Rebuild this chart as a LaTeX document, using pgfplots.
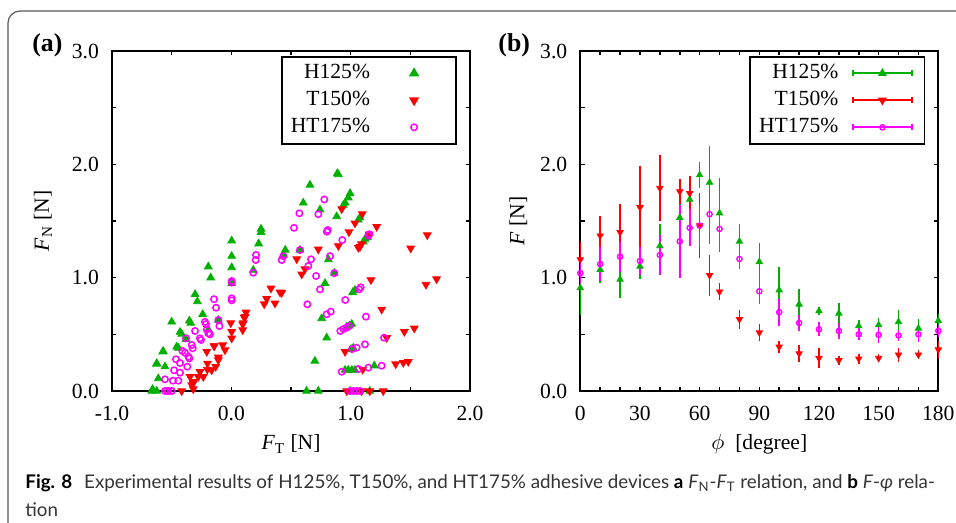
\documentclass[border=0pt]{standalone}
\usepackage{fontspec}
\setmainfont{Liberation Serif}
\newfontfamily\capfont{Lato}
\usepackage{pgfplots}
\pgfplotsset{compat=1.18}
\usepackage{pgfplotstable}

\definecolor{cGreen}{RGB}{0,176,0}
\definecolor{cRed}{RGB}{255,0,0}
\definecolor{cMag}{RGB}{255,0,255}

% panel (b): phi, mean force, error
\pgfplotstableread{
phi F e
0 0.91 0.22
10 1.07 0.09
20 0.985 0.14
30 1.10 0.09
40 1.28 0.17
50 1.53 0.16
55 1.69 0.10
60 1.906 0.09
65 1.84 0.30
70 1.57 0.29
80 1.32 0.13
90 1.14 0.14
100 0.89 0.18
110 0.765 0.11
120 0.706 0.015
130 0.685 0.07
140 0.574 0.03
150 0.582 0.04
160 0.61 0.08
170 0.553 0.06
180 0.62 0.04
}\bH
\pgfplotstableread{
phi F e
0 1.16 0.13
10 1.37 0.15
20 1.40 0.23
30 1.62 0.34
40 1.79 0.27
50 1.76 0.09
55 1.745 0.13
60 1.46 0.26
65 1.02 0.16
70 0.876 0.05
80 0.633 0.06
90 0.515 0.055
100 0.39 0.03
110 0.33 0.05
120 0.29 0.065
130 0.27 0.02
140 0.285 0.02
150 0.29 0.01
160 0.32 0.04
170 0.32 0.015
180 0.365 0.05
}\bT
\pgfplotstableread{
phi F e
0 1.04 0.10
10 1.12 0.13
20 1.185 0.11
30 1.147 0.10
40 1.20 0.15
50 1.32 0.30
55 1.44 0.14
60 1.46 0.16
65 1.56 0.24
70 1.43 0.18
80 1.165 0.065
90 0.88 0.085
100 0.695 0.095
110 0.60 0.05
120 0.544 0.04
130 0.53 0.045
140 0.50 0.03
150 0.495 0.045
160 0.49 0.025
170 0.50 0.045
180 0.53 0.03
}\bHT

\pgfplotsset{
  panel/.style={
    scale only axis, width=179pt, height=170pt, clip=false,
    axis line style={line width=1pt},
    every tick/.style={black, line width=0.8pt},
    tick align=inside, major tick length=2.2pt, minor tick length=2.2pt,
    ymin=0, ymax=3, ytick={0,1,2,3}, yticklabels={0.0,1.0,2.0,3.0}, minor y tick num=1,
    tick label style={font=\fontsize{10.8}{12}\selectfont},
    label style={font=\fontsize{10.8}{12}\selectfont},
    yticklabel style={xshift=-3pt},
    xticklabel style={yshift=-4pt},
    legend cell align=right, legend plot pos=right,
    legend style={at={(axis description cs:0.9637,0.9853)}, anchor=north east,
      draw=black, line width=0.8pt, font=\fontsize{10.8}{12}\selectfont,
      inner xsep=3pt, inner ysep=1.5pt, row sep=0pt,
      nodes={text height=8pt, text depth=2.5pt, inner sep=1.5pt}},
  },
  dotleg/.style={legend image code/.code={
    \path (0pt,0pt) (37.8pt,0pt);
    \draw[##1] plot coordinates {(20.15pt,0pt)};}},
  ebleg/.style={legend image code/.code={
    \path (0pt,0pt) (37.8pt,0pt);
    \draw[#1,line width=0.8pt] (5.5pt,0pt) -- (34.8pt,0pt)
      (5.5pt,-1.5pt) -- (5.5pt,1.5pt) (34.8pt,-1.5pt) -- (34.8pt,1.5pt);
    \draw[##1] plot coordinates {(20.15pt,0pt)};}},
}

\begin{document}
\begin{tikzpicture}
\path[use as bounding box] (0,0) rectangle (478pt,-261.5pt);
\draw[black!65, line width=0.6pt] (4pt,-262pt) -- (4pt,-11.5pt)
  arc[start angle=180, end angle=90, radius=6pt] -- (480pt,-5.5pt);

% ---- (a)
\begin{axis}[panel, at={(56pt,-195.5pt)}, anchor=south west,
  xmin=-1, xmax=2, xtick={-1,0,1,2}, xticklabels={-1.0,0.0,1.0,2.0}, minor x tick num=1,
  xlabel={\textit{F}\textsubscript{T} [N]}, ylabel={\textit{F}\textsubscript{N} [N]},
  xlabel style={at={(axis description cs:0.5,-0.1735)}, anchor=base},
  ylabel style={at={(axis description cs:-0.193,0.5)}, anchor=center}]
\addplot[only marks, cGreen, mark=triangle*, mark size=2.2pt, dotleg] coordinates {
(-0.667,0) (-0.625,0) (-0.66,0.015) (-0.612,0.11) (-0.556,0.215) (-0.625,0.244) (-0.626,0.238)
(-0.57,0.35) (-0.575,0.347) (-0.43,0.52) (-0.444,0.38) (-0.458,0.39) (-0.416,0.503) (-0.5,0.61)
(-0.352,0.62) (-0.34,0.60) (-0.304,0.853) (-0.285,0.79) (-0.24,0.677) (-0.38,0.456)
(-0.193,1.097) (-0.173,1.0) (-0.193,0.544) (-0.109,0.626) (0.003,1.326) (0.003,1.19)
(0.003,1.09) (0.003,0.95) (0.184,1.067) (0.229,1.30) (0.249,1.43) (0.249,1.40)
(0.435,1.20) (0.452,1.244) (0.575,1.244) (0.603,1.66) (0.659,1.818) (0.743,1.60)
(0.888,1.92) (0.897,1.91) (0.883,1.54) (0.813,1.16) (0.785,0.95) (0.757,0.64) (0.799,0.47)
(0.70,0.265) (0.63,0) (0.729,0) (0.863,1.04) (0.995,1.744) (0.98,1.706) (0.953,1.66)
(0.939,1.64) (1.078,1.53) (1.064,1.51) (1.139,1.356) (1.12,1.34) (1.106,1.317)
(1.036,0.89) (1.017,0.87) (1.009,0.59) (0.989,0.576) (0.967,0.567) (1.022,0.38)
(1.003,0.368) (0.953,0.185) (0.98,0.185) (1.01,0.185) (1.036,0.185) (1.198,0.223)
(0.995,0) (1.16,0)};
\addplot[only marks, cRed, mark=triangle*, mark size=2.2pt, mark options={rotate=180}, dotleg] coordinates {
(0.123,0.694) (0.109,0.647) (0.095,0.59) (-0.005,0.60) (0.003,0.523) (0.003,0.465)
(-0.072,0.406) (-0.053,0.362) (-0.145,0.397) (-0.206,0.347) (-0.109,0.297) (-0.109,0.273)
(-0.131,0.215) (-0.165,0.185) (-0.201,0.19) (-0.2,0.244) (-0.263,0.17) (-0.277,0.126)
(-0.346,0.126) (-0.319,0.082) (-0.332,0.053) (-0.416,0) (-0.319,0.018) (-0.235,0.126)
(-0.32,0.068) (-0.143,0.397) (0.095,0.538) (0.10,0.60) (0.115,0.656) (0.276,0.767)
(0.296,0.814) (0.332,0.906) (0.366,0.774) (0.408,0.871) (0.548,1.165) (0.59,1.03)
(0.617,1.076) (0.729,1.25) (0.925,1.606) (1.097,1.562) (1.036,1.48) (0.986,1.403)
(1.218,1.45) (1.154,1.383) (0.897,1.28) (1.09,1.297) (1.078,1.273) (1.064,1.265)
(1.642,1.376) (1.503,1.259) (0.422,0.867) (1.17,0.98) (1.72,0.988) (1.631,0.94)
(1.26,0.72) (1.533,0.553) (1.45,0.523) (1.302,0.47) (0.953,0.347) (1.483,0.259)
(1.441,0.25) (1.377,0.238) (1.101,0.19) (0.967,0) (1.092,0) (1.273,0) (1.16,0)};
\addplot[only marks, cMag, mark=o, mark size=1.6pt, mark options={line width=0.75pt}, dotleg] coordinates {
(0.184,1.044) (0.003,0.956) (0.003,0.97) (0.003,0.80) (0.003,0.818) (-0.145,0.81)
(-0.128,0.735) (-0.109,0.626) (-0.10,0.573) (-0.221,0.61) (-0.212,0.59) (-0.206,0.544)
(-0.193,0.509) (-0.304,0.53) (-0.263,0.465) (-0.254,0.45) (-0.38,0.465) (-0.332,0.406)
(-0.324,0.377) (-0.41,0.353) (-0.388,0.338) (-0.36,0.303) (-0.464,0.28) (-0.43,0.247)
(-0.369,0.215) (-0.48,0.183) (-0.43,0.162) (-0.556,0.103) (-0.49,0.091) (-0.444,0.091)
(-0.556,0) (-0.528,0) (-0.5,0) (-0.533,0) (-0.352,0.288) (-0.179,0.50) (0.207,1.2)
(0.204,1.156) (0.422,1.156) (0.436,1.19) (0.525,1.44) (0.57,1.568) (0.575,1.244)
(0.645,1.103) (0.668,1.162) (0.637,0.765) (0.71,1.015) (0.743,0.897) (0.729,1.56)
(0.779,1.69) (0.8,1.406) (0.808,1.42) (0.827,1.19) (0.799,0.677) (0.833,0.70)
(0.863,1.04) (1.156,1.383) (1.148,1.37) (0.93,1.332) (1.084,0.915) (1.072,0.897)
(0.955,0.803) (1.128,0.656) (0.913,0.53) (0.939,0.547) (0.967,0.559) (0.987,0.574)
(1.28,0.47) (1.011,0.37) (1.05,0.382) (1.12,0.412) (0.925,0.17) (1.064,0.194)
(1.148,0.206) (1.26,0.223) (0.995,0) (1.022,0) (1.05,0) (1.078,0)};
\legend{H125\%,T150\%,HT175\%}
\end{axis}

% ---- (b)
\begin{axis}[panel, at={(290.15pt,-195.5pt)}, anchor=south west,
  xmin=0, xmax=180, xtick={0,30,...,180}, xticklabels={0,30,60,90,120,150,180}, minor x tick num=2,
  xlabel={$\phi$\ \ [degree]}, ylabel={\textit{F} [N]},
  xlabel style={at={(axis description cs:0.5,-0.1735)}, anchor=base},
  ylabel style={at={(axis description cs:-0.173,0.5)}, anchor=center}]
\addplot[only marks, cGreen, mark=triangle*, mark size=1.8pt, ebleg=cGreen,
  error bars/.cd, y dir=both, y explicit,
  error bar style={line width=0.8pt, cGreen}, error mark options={mark size=1.3pt, line width=0.8pt, cGreen}]
  table[x=phi, y=F, y error=e] {\bH};
\addplot[only marks, cRed, mark=triangle*, mark size=1.8pt, mark options={rotate=180}, ebleg=cRed,
  error bars/.cd, y dir=both, y explicit,
  error bar style={line width=0.8pt, cRed}, error mark options={mark size=1.3pt, line width=0.8pt, cRed}]
  table[x=phi, y=F, y error=e] {\bT};
\addplot[only marks, cMag, mark=o, mark size=1.3pt, mark options={line width=0.7pt}, ebleg=cMag,
  error bars/.cd, y dir=both, y explicit,
  error bar style={line width=0.8pt, cMag}, error mark options={mark size=1.3pt, line width=0.8pt, cMag}]
  table[x=phi, y=F, y error=e] {\bHT};
\legend{H125\%,T150\%,HT175\%}
\end{axis}

\node[anchor=base west, inner sep=0, font=\bfseries\fontsize{12.9}{14}\selectfont] at (16pt,-25.8pt) {(a)};
\node[anchor=base west, inner sep=0, font=\bfseries\fontsize{12.9}{14}\selectfont] at (249pt,-25.8pt) {(b)};

\node[anchor=base west, inner sep=0, text=black!80, font=\capfont\fontsize{9.4}{14.2}\selectfont] at (12.5pt,-244.15pt)
  {\textbf{\color{black}Fig. 8}\hspace{6pt}Experimental results of H125\%, T150\%, and HT175\% adhesive devices \textbf{\color{black}a} \textit{F}\textsubscript{N}-\textit{F}\textsubscript{T} relation, and \textbf{\color{black}b} \textit{F}-\textit{φ} rela-};
\node[anchor=base west, inner sep=0, text=black!80, font=\capfont\fontsize{9.4}{14.2}\selectfont] at (12.5pt,-258.35pt) {tion};
\end{tikzpicture}
\end{document}
